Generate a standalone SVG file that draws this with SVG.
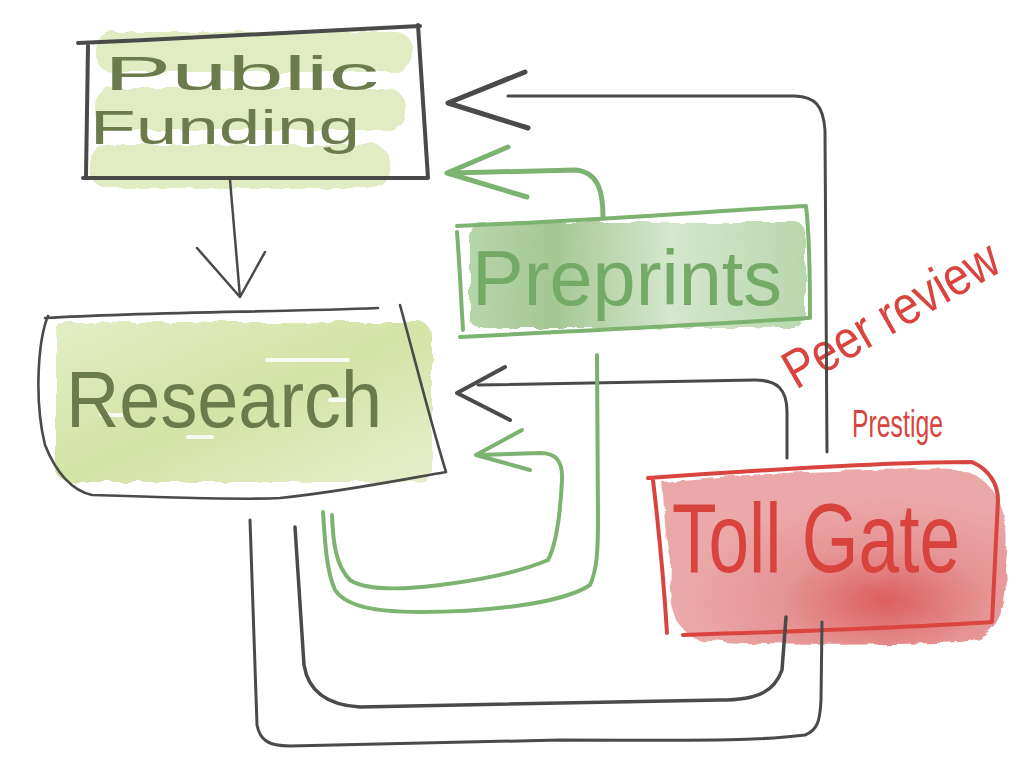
<svg xmlns="http://www.w3.org/2000/svg" width="1024" height="768" viewBox="0 0 1024 768">
<defs>
<filter id="rough" x="-5%" y="-10%" width="110%" height="120%">
<feTurbulence type="fractalNoise" baseFrequency="0.06" numOctaves="2" seed="3"/>
<feDisplacementMap in="SourceGraphic" scale="7"/>
</filter>
<linearGradient id="gResearch" x1="0" y1="0" x2="1" y2="1">
<stop offset="0" stop-color="#e3edc4"/><stop offset="0.5" stop-color="#d4e3a6"/><stop offset="1" stop-color="#e6efcb"/>
</linearGradient>
<linearGradient id="gPre" x1="0" y1="0" x2="1" y2="0">
<stop offset="0" stop-color="#b7d5aa"/><stop offset="0.25" stop-color="#a3c893"/><stop offset="0.6" stop-color="#d5e7cc"/><stop offset="1" stop-color="#b9d7ad"/>
</linearGradient>
<radialGradient id="gToll" cx="0.65" cy="0.75" r="0.6">
<stop offset="0" stop-color="#dc5f5f"/><stop offset="0.5" stop-color="#e69494"/><stop offset="1" stop-color="#eaa9a8"/>
</radialGradient>
<style>
.dark{fill:none;stroke:#4a4a4a;stroke-linecap:round;stroke-linejoin:round}
.green{fill:none;stroke:#7db370;stroke-linecap:round;stroke-linejoin:round}
.red{fill:none;stroke:#d9453e;stroke-linecap:round;stroke-linejoin:round}
.hand{font-family:"Liberation Sans","DejaVu Sans",sans-serif}
</style>
</defs>
<rect width="1024" height="768" fill="#ffffff"/>

<g id="public-funding">
<g filter="url(#rough)" fill="#dfeabd" opacity="0.9">
<rect x="95" y="32" width="318" height="40" rx="18"/>
<rect x="95" y="88" width="310" height="42" rx="18"/>
<rect x="90" y="145" width="300" height="43" rx="18"/>
</g>
<path class="dark" stroke-width="4" d="M78,43 C200,38 330,30 420,26 M418,25 L428,178 L83,178 M88,46 L86,176"/>
<text class="hand" x="104" y="90" font-size="48" fill="#6c7b4c" textLength="275" lengthAdjust="spacingAndGlyphs">Public</text>
<text class="hand" x="90" y="144" font-size="48" fill="#6c7b4c" textLength="270" lengthAdjust="spacingAndGlyphs">Funding</text>
</g>

<g id="research">
<rect x="56" y="322" width="376" height="160" rx="14" fill="url(#gResearch)" filter="url(#rough)"/>
<g fill="#ffffff" opacity="0.85">
<rect x="265" y="358" width="85" height="4" rx="2"/>
<rect x="328" y="398" width="26" height="4" rx="2"/>
<rect x="99" y="413" width="24" height="4" rx="2"/>
<rect x="186" y="435" width="28" height="4" rx="2"/>
</g>
<path class="dark" stroke-width="2.6" d="M45,318 C150,312 280,312 378,308 M48,316 C38,340 34,400 45,445 C55,470 70,490 92,495 C180,498 250,500 280,498 C340,492 400,480 446,472 M400,305 C415,360 430,420 446,472"/>
<text class="hand" x="66" y="427" font-size="80" fill="#6c7b4c" textLength="316" lengthAdjust="spacingAndGlyphs">Research</text>
</g>

<g id="preprints">
<rect x="470" y="222" width="335" height="106" rx="10" fill="url(#gPre)" filter="url(#rough)"/>
<path class="green" stroke-width="4" d="M457,226 C600,220 700,212 805,206 M806,206 C810,240 810,290 810,318 M808,318 C700,325 560,332 460,337 M457,232 C460,270 461,300 463,330"/>
<text class="hand" x="472" y="305" font-size="78" fill="#72aa66" textLength="310" lengthAdjust="spacingAndGlyphs">Preprints</text>
</g>

<g id="toll-gate">
<path d="M662,482 C760,472 880,468 960,470 C1000,478 1010,520 1004,560 C1010,600 1002,640 960,642 C860,646 760,646 700,640 C672,630 668,600 670,560 C664,530 664,500 662,482 Z" fill="url(#gToll)" filter="url(#rough)"/>
<path class="red" stroke-width="4" d="M648,478 C760,470 880,462 972,462 C990,470 998,485 998,500 L992,622 C900,628 780,632 683,635 M653,480 C660,540 665,600 667,633"/>
<text class="hand" x="672" y="572" font-size="98" fill="#d9433e" textLength="288" lengthAdjust="spacingAndGlyphs">Toll Gate</text>
</g>

<g id="labels">
<text class="hand" x="0" y="0" font-size="54" fill="#d9453e" textLength="240" lengthAdjust="spacingAndGlyphs" transform="translate(796,390) rotate(-30)">Peer review</text>
<text class="hand" x="852" y="437" font-size="38" fill="#d9453e" textLength="91" lengthAdjust="spacingAndGlyphs">Prestige</text>
</g>

<g id="connectors">
<path class="dark" stroke-width="2.5" d="M230,180 L240,297 M197,248 L240,297 L265,252"/>
<path class="dark" stroke-width="3" d="M827,452 L825,130 C823,105 815,97 795,96 L508,96"/>
<path class="dark" stroke-width="5" d="M525,72 L448,103 L528,128"/>
<path class="green" stroke-width="5" d="M603,217 C603,195 600,172 575,170 L452,173 M508,147 L447,173 L527,197"/>
<path class="dark" stroke-width="3" d="M787,458 L787,412 C787,390 778,380 755,380 L478,385"/>
<path class="dark" stroke-width="4" d="M505,367 L457,393 L510,420"/>
<path class="green" stroke-width="4" d="M323,512 C325,540 326,570 335,590 C345,605 370,612 420,612 C480,612 560,605 590,585 C597,570 598,550 598,520 L597,355"/>
<path class="green" stroke-width="4" d="M332,515 C333,540 335,565 350,580 C365,590 400,590 440,585 C480,580 520,572 548,560 C556,545 560,520 562,480 C563,460 555,453 540,453 L478,455 M522,430 L476,455 L530,470"/>
<path class="dark" stroke-width="3" d="M250,520 L257,725 C260,740 268,746 290,746 L560,740 C680,740 750,742 805,735 C818,730 820,720 821,700 L822,622"/>
<path class="dark" stroke-width="3.5" d="M295,527 L304,665 C308,690 325,705 360,707 L720,700 C760,700 775,690 782,670 L786,617"/>
</g>
</svg>
